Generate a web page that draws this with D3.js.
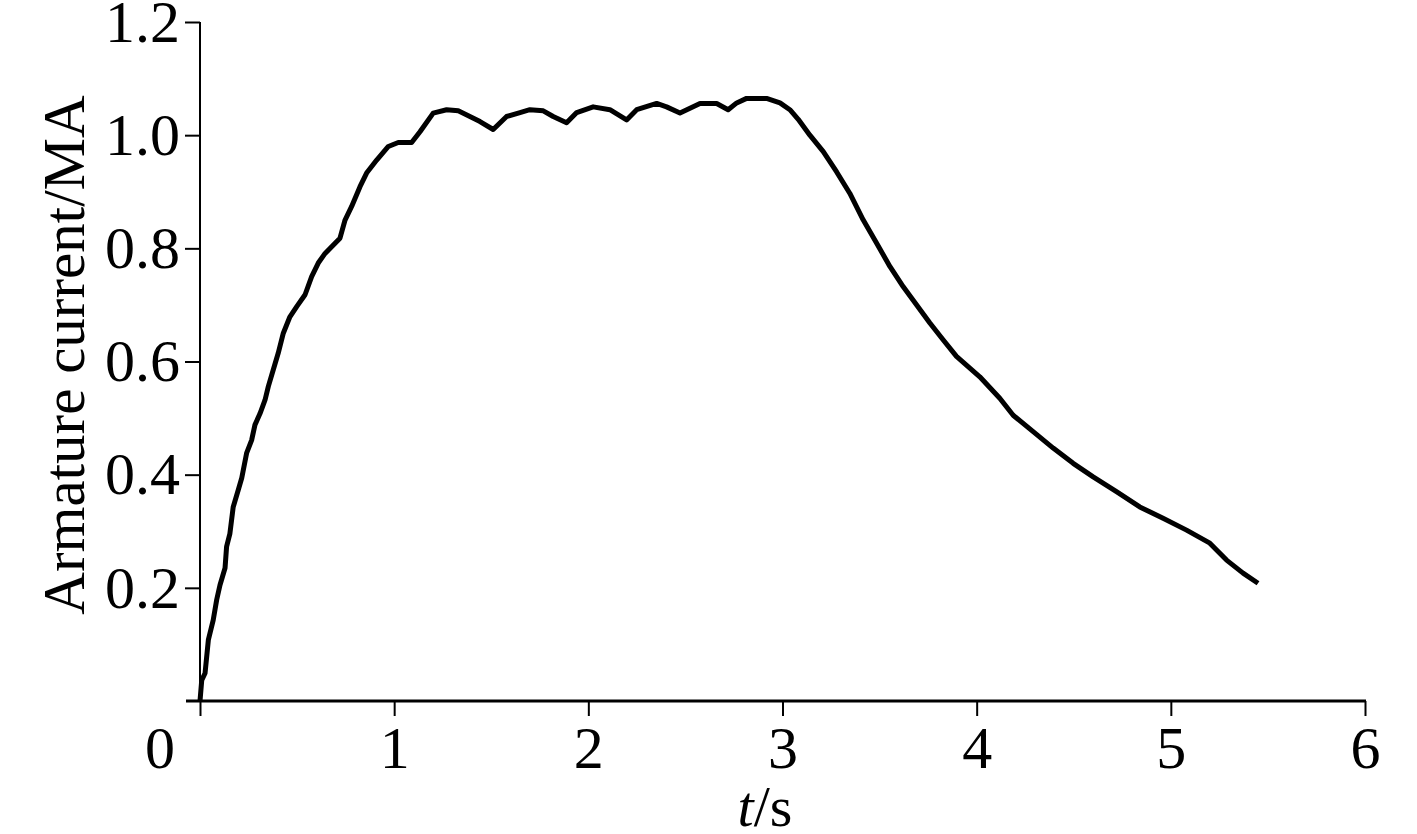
<!DOCTYPE html>
<head>
  <meta charset="utf-8">
  <script src="https://d3js.org/d3.v7.min.js"></script>
  <style>
    body { margin: 0; background: #fff; }
    svg { display: block; width: 1417px; height: 834px; background: #fff; }
    text { font-family: "Liberation Serif", "Times New Roman", serif; fill: #000; }
  </style>
</head>

<body>
  <svg></svg>

  <script>
    const timeS = [
      0, 0.009, 0.026, 0.043, 0.068, 0.086, 0.103, 0.129, 0.137, 0.154,
      0.171, 0.197, 0.215, 0.240, 0.266, 0.283, 0.309, 0.335, 0.352, 0.377,
      0.403, 0.429, 0.463, 0.498, 0.541, 0.575, 0.609, 0.644, 0.721, 0.747,
      0.781, 0.824, 0.858, 0.910, 0.970, 1.021, 1.090, 1.133, 1.201, 1.270,
      1.330, 1.390, 1.442, 1.510, 1.579, 1.648, 1.699, 1.768, 1.819, 1.888,
      1.940, 2.025, 2.111, 2.197, 2.249, 2.352, 2.403, 2.472, 2.575, 2.661,
      2.720, 2.764, 2.815, 2.918, 2.987, 3.038, 3.081, 3.141, 3.210, 3.279,
      3.347, 3.416, 3.485, 3.553, 3.622, 3.691, 3.759, 3.828, 3.896, 4.016,
      4.119, 4.188, 4.291, 4.394, 4.497, 4.600, 4.720, 4.840, 4.960, 5.081,
      5.201, 5.287, 5.372, 5.449
    ];
    const currentMA = [
      0, 0.037, 0.049, 0.108, 0.143, 0.179, 0.205, 0.235, 0.273, 0.296,
      0.343, 0.373, 0.394, 0.438, 0.461, 0.488, 0.508, 0.532, 0.556, 0.585,
      0.615, 0.650, 0.679, 0.697, 0.718, 0.750, 0.774, 0.791, 0.818, 0.850,
      0.874, 0.909, 0.933, 0.956, 0.980, 0.987, 0.987, 1.006, 1.039, 1.045,
      1.043, 1.033, 1.024, 1.010, 1.033, 1.040, 1.045, 1.043, 1.033, 1.022,
      1.040, 1.050, 1.045, 1.027, 1.045, 1.056, 1.050, 1.039, 1.056, 1.056,
      1.045, 1.057, 1.065, 1.065, 1.057, 1.045, 1.028, 1.000, 0.971, 0.935,
      0.897, 0.850, 0.809, 0.768, 0.732, 0.700, 0.668, 0.638, 0.609, 0.573,
      0.535, 0.505, 0.476, 0.447, 0.420, 0.396, 0.370, 0.343, 0.323, 0.302,
      0.279, 0.249, 0.226, 0.208
    ];
    const xTicks = [1, 2, 3, 4, 5, 6];
    const yTicks = [0.2, 0.4, 0.6, 0.8, 1.0, 1.2];

    const svg = d3.select('svg');

    const x = d3.scaleLinear().domain([0, 6]).range([200, 1365]);
    const y = d3.scaleLinear().domain([0, 1.2]).range([701, 22]);

    const fontSize = 60;

    /*****************************************************
    ** axes
    ******************************************************/

    const xAxis = svg.append('g')
      .attr('transform', `translate(0,${y(0)})`)
      .call(d3.axisBottom(x).tickValues([0].concat(xTicks)).tickSize(15).tickSizeOuter(0)
        .tickFormat(d => d === 0 ? '' : d3.format('d')(d)));
    xAxis.select('.domain').remove();
    xAxis.append('line')
      .attr('x1', x(0) - 14).attr('x2', x(6) + 1)
      .attr('stroke', '#000').attr('stroke-width', 3);
    xAxis.selectAll('.tick line').attr('stroke', '#000').attr('stroke-width', 2);
    xAxis.selectAll('.tick text')
      .attr('font-size', fontSize)
      .attr('font-family', '"Liberation Serif", serif')
      .attr('y', 24).attr('dy', '0.71em');

    // shared origin label
    xAxis.append('text')
      .attr('x', x(0) - 40)
      .attr('y', 24).attr('dy', '0.71em')
      .attr('text-anchor', 'middle')
      .attr('font-size', fontSize)
      .text('0');

    const yAxis = svg.append('g')
      .attr('transform', `translate(${x(0)},0)`)
      .call(d3.axisLeft(y).tickValues(yTicks).tickSize(15).tickSizeOuter(0)
        .tickFormat(d3.format('.1f')));
    yAxis.select('.domain').remove();
    yAxis.append('line')
      .attr('y1', y(1.2)).attr('y2', y(0))
      .attr('stroke', '#000').attr('stroke-width', 2);
    yAxis.selectAll('.tick line').attr('stroke', '#000').attr('stroke-width', 2);
    yAxis.selectAll('.tick text')
      .attr('font-size', fontSize)
      .attr('font-family', '"Liberation Serif", serif')
      .attr('x', -20).attr('dy', '0.32em');

    /*****************************************************
    ** titles
    ******************************************************/

    svg.append('text')
      .attr('transform', 'translate(84,355) rotate(-90)')
      .attr('text-anchor', 'middle')
      .attr('font-size', 59)
      .text('Armature current/MA');

    const xt = svg.append('text')
      .attr('x', 765).attr('y', 826)
      .attr('text-anchor', 'middle')
      .attr('font-size', 58);
    xt.append('tspan').attr('font-style', 'italic').text('t');
    xt.append('tspan').text('/s');

    /*****************************************************
    ** current trace
    ******************************************************/

    const points = timeS.map((t, i) => [t, currentMA[i]]);

    const line = d3.line()
      .x(d => x(d[0]))
      .y(d => y(d[1]));

    svg.append('path')
      .datum(points)
      .attr('d', line)
      .attr('fill', 'none')
      .attr('stroke', '#000')
      .attr('stroke-width', 5)
      .attr('stroke-linejoin', 'round');
  </script>
</body>
